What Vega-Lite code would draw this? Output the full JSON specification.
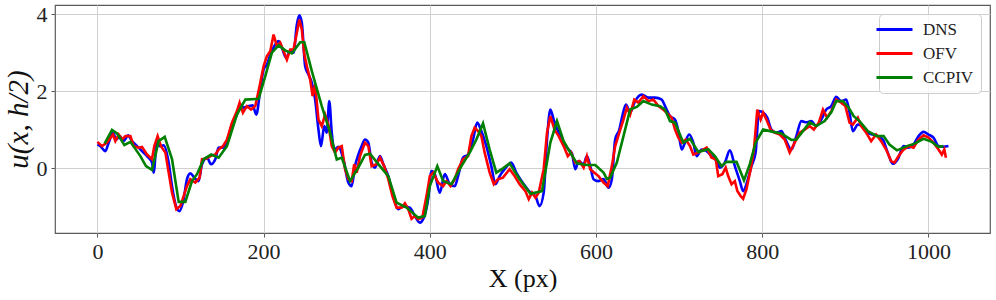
{
  "$schema": "https://vega.github.io/schema/vega-lite/v6.json",
  "width": 935,
  "height": 228,
  "autosize": {"type": "none"},
  "padding": {"left": 55, "top": 5, "right": 6, "bottom": 67},
  "background": "white",
  "datasets": {
    "dns": [
      [0,0.61],[3.6,0.57],[9.6,0.44],[13.6,0.66],[18.8,0.92],[22.8,0.74],[26.9,0.83],[31.7,0.70],[36.9,0.85],[41.7,0.70],[47.7,0.57],[53.7,0.44],[59.7,0.31],[65.7,0.14],[67.7,-0.12],[71.7,0.74],[75,0.57],[79.8,0.59],[85.8,0.14],[89.8,-0.47],[94.6,-0.99],[98.6,-1.12],[103.8,-0.81],[107.8,-0.29],[111.8,-0.14],[116.6,-0.25],[121.8,-0.34],[125.9,0.10],[131.9,0.27],[136.7,0.10],[141.9,0.23],[145.9,0.53],[151.1,0.53],[155.9,0.70],[161.9,1.13],[167.9,1.39],[171.9,1.65],[175.9,1.57],[181.9,1.61],[186.8,1.63],[191.2,1.39],[196,2.04],[200,2.56],[204,2.69],[208.8,3.0],[212.8,3.17],[218,3.30],[222,3.13],[227,2.87],[232,3.04],[236,3.0],[240,3.73],[243,3.97],[246,3.77],[250,2.65],[254,2.43],[258,2.22],[262,1.78],[266,1.0],[269,0.57],[273,1.09],[276,0.92],[279,1.74],[282,0.92],[285,0.48],[290,0.55],[296,0.23],[302,-0.38],[306,-0.47],[310,0.05],[314,0.35],[318,0.57],[322,0.74],[326,0.66],[330,0.14],[334,0.01],[340,0.31],[344,0.10],[350,-0.21],[356,-0.73],[362,-1.07],[368,-1.0],[376,-1.03],[382,-1.25],[388,-1.42],[392,-1.33],[398,-0.81],[402,-0.08],[406,-0.16],[412,-0.64],[418,-0.16],[424,-0.42],[430,-0.47],[434,-0.21],[440,0.27],[446,0.35],[452,0.74],[457,1.18],[462,0.96],[468,0.57],[474,0.05],[479,-0.42],[484,-0.21],[490,-0.03],[498,0.14],[504,-0.12],[513,-0.42],[521,-0.64],[527,-0.73],[532,-0.99],[537,-0.64],[541,0.74],[545,1.52],[549,1.26],[555,0.92],[561,0.66],[567,0.48],[571,0.38],[575,-0.03],[579,0.18],[585,0.10],[589,0.31],[593,0.05],[597,-0.29],[603,-0.34],[609,-0.29],[615,-0.51],[619,-0.29],[623,0.74],[628,1.0],[632,1.39],[636,1.65],[641,1.44],[647,1.74],[655,1.91],[663,1.83],[671,1.83],[679,1.78],[683,1.61],[689,1.35],[695,1.26],[699,0.96],[703,0.48],[707,0.66],[712,0.87],[717,0.66],[721,0.31],[727,0.48],[733,0.44],[739,0.31],[745,0.18],[749,0.01],[755,0.14],[761,0.46],[767,0.05],[773,-0.34],[777,-0.60],[782,-0.34],[787,0.05],[792,0.40],[796,1.48],[801,1.44],[806,1.31],[811,1.00],[817,0.92],[823,0.96],[828,0.74],[835,0.48],[841,0.83],[847,1.22],[853,1.19],[859,1.22],[865,1.09],[871,1.26],[877,1.52],[883,1.61],[889,1.85],[895,1.74],[901,1.78],[905,1.44],[909,0.96],[915,1.13],[921,1.09],[927,0.92],[933,0.87],[939,0.83],[945,0.74],[951,0.40],[957,0.11],[963,0.23],[970,0.57],[976,0.53],[982,0.61],[988,0.83],[994,0.94],[1000,0.87],[1006,0.79],[1012,0.57],[1018,0.55],[1024,0.57]
    ],
    "ofv": [
      [0,0.68],[5.6,0.57],[11.6,0.66],[18.8,0.87],[21.6,0.70],[25.7,0.87],[29.7,0.74],[33.7,0.83],[39.7,0.83],[43.7,0.57],[49.7,0.53],[53.7,0.55],[59.7,0.35],[65.7,0.23],[68.5,0.57],[72.5,0.83],[76.5,0.57],[81.8,0.40],[85.8,-0.12],[89.8,-0.64],[95,-1.07],[99.8,-0.99],[103.8,-0.73],[107.8,-0.47],[111.8,-0.29],[117.8,-0.38],[123,-0.25],[125.9,0.23],[131,0.24],[135.9,0.31],[141.9,0.35],[145.9,0.48],[151.1,0.57],[155.9,0.74],[161.9,1.18],[167.9,1.48],[171.1,1.70],[175.1,1.44],[179.9,1.61],[184.8,1.52],[190,1.61],[195.2,2.13],[200,2.65],[204,2.91],[208,3.04],[212,3.47],[216,3.17],[220,3.26],[224,3.04],[228,2.82],[232,3.08],[236,3.08],[240,3.52],[243,3.86],[246,3.60],[249,2.95],[252,2.65],[256,2.30],[259,1.87],[262,2.17],[266,1.26],[270,1.09],[274,1.39],[278,1.13],[282,0.57],[286,0.40],[290,0.53],[294,0.57],[298,-0.03],[302,-0.29],[306,-0.34],[309,0.10],[312,-0.12],[316,0.31],[322,0.66],[326,0.57],[330,0.05],[336,0.10],[340,0.27],[345,0.05],[350,-0.29],[355,-0.73],[360,-1.03],[366,-1.03],[370,-0.92],[374,-1.07],[378,-1.32],[382,-1.25],[386,-1.33],[391,-1.29],[396,-0.73],[400,-0.21],[404,-0.12],[410,-0.38],[416,-0.47],[420,-0.34],[425,-0.47],[430,-0.29],[434,-0.03],[440,0.23],[446,0.31],[450,0.83],[454,1.05],[458,0.96],[462,0.83],[466,0.40],[472,-0.12],[477,-0.42],[482,-0.29],[488,-0.25],[496,-0.03],[502,-0.21],[508,-0.42],[515,-0.60],[519,-0.81],[523,-0.64],[527,-0.77],[531,-0.64],[537,-0.03],[541,0.92],[545,1.35],[550,1.00],[555,0.83],[561,0.57],[566,0.31],[570,0.40],[575,0.14],[580,0.18],[585,0.01],[589,0.31],[593,-0.03],[598,-0.12],[603,-0.21],[609,-0.38],[614,-0.47],[619,0.05],[623,0.57],[628,0.92],[633,1.26],[637,1.57],[641,1.39],[646,1.78],[651,1.70],[657,1.87],[663,1.74],[669,1.78],[675,1.61],[681,1.52],[687,1.39],[691,1.31],[695,1.00],[699,0.79],[703,0.66],[708,0.74],[713,0.57],[717,0.35],[723,0.40],[729,0.48],[733,0.53],[739,0.27],[744,0.23],[747,-0.21],[752,-0.16],[756,0.01],[759,-0.21],[763,-0.42],[767,-0.34],[770,-0.60],[774,-0.73],[777,-0.80],[781,-0.55],[786,-0.03],[790,0.48],[794,1.52],[798,1.26],[801,1.44],[805,1.26],[810,1.00],[815,0.92],[821,0.87],[827,0.74],[833,0.40],[839,0.66],[845,0.92],[851,1.00],[857,1.09],[862,1.00],[868,1.18],[873,1.52],[878,1.31],[883,1.48],[889,1.78],[895,1.70],[900,1.61],[905,1.18],[909,1.13],[915,1.31],[919,1.09],[925,0.92],[931,0.70],[937,0.87],[943,0.70],[949,0.48],[955,0.18],[959,0.14],[964,0.31],[970,0.48],[976,0.57],[982,0.53],[988,0.74],[994,0.85],[1000,0.79],[1006,0.66],[1012,0.48],[1016,0.35],[1019,0.48],[1021,0.27]
    ],
    "ccpiv": [
      [8.8,0.64],[17.6,0.99],[23.6,0.90],[32.5,0.60],[39.7,0.68],[51.7,0.31],[58.5,0.05],[65.7,-0.05],[73.7,0.70],[81,0.81],[89.8,0.23],[97.8,-0.88],[105.8,-0.88],[113.8,-0.34],[119.8,-0.16],[127.9,0.23],[137,0.35],[145.9,0.27],[155.9,0.57],[167.9,1.39],[178,1.78],[194,1.80],[202,2.39],[210,3.0],[218,3.19],[226,3.06],[234,2.98],[244,3.27],[249,3.27],[258,2.52],[270,1.61],[280,0.92],[288,0.22],[294,0.27],[304,-0.34],[314,0.01],[322,0.34],[328,0.37],[340,0.05],[350,-0.21],[360,-0.90],[372,-1.03],[386,-1.29],[394,-1.25],[400,-0.47],[409,0.05],[416,-0.34],[426,-0.42],[438,0.05],[448,0.40],[456,0.74],[464,1.16],[472,0.48],[480,-0.12],[488,-0.01],[496,0.12],[508,-0.29],[521,-0.67],[535,-0.60],[545,0.66],[553,1.22],[561,0.70],[569,0.40],[577,0.12],[589,0.08],[599,0.08],[609,-0.12],[613,-0.28],[617,-0.25],[625,0.14],[633,0.83],[641,1.52],[649,1.59],[657,1.74],[667,1.65],[677,1.61],[683,1.52],[689,1.22],[695,1.18],[705,0.66],[713,0.76],[723,0.42],[735,0.49],[743,0.31],[751,0.05],[757,0.16],[769,0.16],[778,-0.32],[785,0.10],[792,0.66],[801,1.00],[813,0.94],[823,0.90],[835,0.73],[841,0.74],[849,0.96],[857,1.19],[865,1.09],[875,1.22],[883,1.45],[889,1.74],[897,1.74],[904,1.57],[910,1.35],[917,1.22],[927,0.96],[938,0.83],[946,0.83],[953,0.61],[962,0.46],[974,0.57],[984,0.64],[994,0.76],[1004,0.68],[1012,0.55],[1018,0.57]
    ]
  },
  "layer": [
    {
      "data": {"name": "dns"},
      "transform": [
        {"calculate": "'DNS'", "as": "s"},
        {"calculate": "datum[0]", "as": "x"},
        {"calculate": "datum[1]", "as": "y"}
      ],
      "mark": {"type": "line", "strokeWidth": 2.6, "interpolate": "monotone"},
      "encoding": {
        "x": {"field": "x", "type": "quantitative"},
        "y": {"field": "y", "type": "quantitative"},
        "color": {"field": "s", "type": "nominal"}
      }
    },
    {
      "data": {"name": "ofv"},
      "transform": [
        {"calculate": "'OFV'", "as": "s"},
        {"calculate": "datum[0]", "as": "x"},
        {"calculate": "datum[1]", "as": "y"}
      ],
      "mark": {"type": "line", "strokeWidth": 2.6},
      "encoding": {
        "x": {"field": "x", "type": "quantitative"},
        "y": {"field": "y", "type": "quantitative"},
        "color": {"field": "s", "type": "nominal"}
      }
    },
    {
      "data": {"name": "ccpiv"},
      "transform": [
        {"calculate": "'CCPIV'", "as": "s"},
        {"calculate": "datum[0]", "as": "x"},
        {"calculate": "datum[1]", "as": "y"}
      ],
      "mark": {"type": "line", "strokeWidth": 2.6},
      "encoding": {
        "x": {
          "field": "x", "type": "quantitative",
          "scale": {"domain": [-51, 1074], "nice": false, "zero": false},
          "axis": {"values": [0, 200, 400, 600, 800, 1000], "format": "d", "title": "X (px)"}
        },
        "y": {
          "field": "y", "type": "quantitative",
          "scale": {"domain": [-1.69, 4.24], "nice": false, "zero": false},
          "axis": {"values": [0, 2, 4], "format": "d", "title": "u(x, h/2)", "titleFontStyle": "italic", "titleFontSize": 29, "titlePadding": 3}
        },
        "color": {
          "field": "s", "type": "nominal",
          "scale": {"domain": ["DNS", "OFV", "CCPIV"], "range": ["#0000ff", "#ff0000", "#008000"]},
          "legend": {"title": null}
        }
      }
    }
  ],
  "config": {
    "view": {"stroke": "#5a5a5a", "strokeWidth": 1.2},
    "axis": {
      "grid": true, "gridColor": "#d0d0d0", "gridWidth": 1,
      "domain": false,
      "ticks": true, "tickColor": "#5a5a5a", "tickSize": 4,
      "labelFont": "Liberation Serif", "labelFontSize": 22, "labelColor": "#222", "labelPadding": 4,
      "titleFont": "Liberation Serif", "titleFontSize": 26, "titleFontWeight": "normal", "titleColor": "#111"
    },
    "axisX": {"titlePadding": 3},
    "legend": {
      "orient": "top-right", "offset": 9,
      "labelFont": "Liberation Serif", "labelFontSize": 17, "labelColor": "#222",
      "symbolType": "M-3,0H3", "symbolSize": 144, "symbolStrokeWidth": 3,
      "labelOffset": 20,
      "strokeColor": "#cccccc", "fillColor": "rgba(255,255,255,0.8)", "cornerRadius": 4,
      "padding": 7, "rowPadding": 6
    }
  }
}
